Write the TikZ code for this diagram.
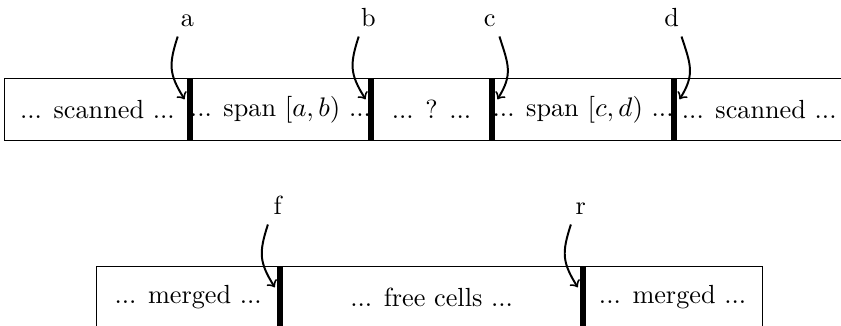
\documentclass[tikz,border=0pt]{standalone}
\usetikzlibrary{positioning}
\tikzset{
  cell/.style={draw, line width=0.4pt, minimum width=#1, minimum height=25pt, inner sep=0pt, outer sep=0pt},
  bar/.style={line width=2.4pt},
  lbl/.style={anchor=base, inner sep=0pt},
  pointer/.style={->, thick, looseness=1.2},
}
\begin{document}
\begin{tikzpicture}[x=1pt, y=1pt, every node/.style={font=\fontsize{10.7}{13}\selectfont}]
  \useasboundingbox (0,0) rectangle (343.1,-132.6);
  \clip (0,0) rectangle (343.1,-132.6);
  % scanned row
  \node[cell=75.5pt, anchor=north west] (s1) at (2,-32.2) {... scanned ...};
  \node[cell=73.8pt, right=0pt of s1] (s2) {... span $[a,b)$ ...};
  \node[cell=49.4pt, right=0pt of s2] (s3) {... ? ...};
  \node[cell=74.3pt, right=0pt of s3] (s4) {... span $[c,d)$ ...};
  \node[cell=69.4pt, right=0pt of s4] (s5) {... scanned ...};
  % merged row
  \node[cell=75.1pt, anchor=north west] (m1) at (39.2,-108.9) {... merged ...};
  \node[cell=123.6pt, right=0pt of m1] (m2) {... free cells ...};
  \node[cell=73pt, right=0pt of m2] (m3) {... merged ...};
  % boundaries
  \foreach \c in {s1,s2,s3,s4,m1,m2}
    \draw[bar] (\c.north east) -- (\c.south east);
  % labels and pointers
  \foreach \c/\l/\s/\o/\i in {s1/a/-1/252/122, s2/b/-1/252/122, s3/c/1/288/58, s4/d/1/288/58, m1/f/-1/252/122, m2/r/-1/252/122} {
    \node[lbl] (l\l) at ([xshift=-1pt, yshift=21.3pt]\c.north east) {\l};
    \draw[pointer] ([xshift=\s*4pt, yshift=-4pt]l\l.base) to[out=\o, in=\i] ([xshift=\s*2.2pt, yshift=-8.3pt]\c.north east);
  }
\end{tikzpicture}
\end{document}
